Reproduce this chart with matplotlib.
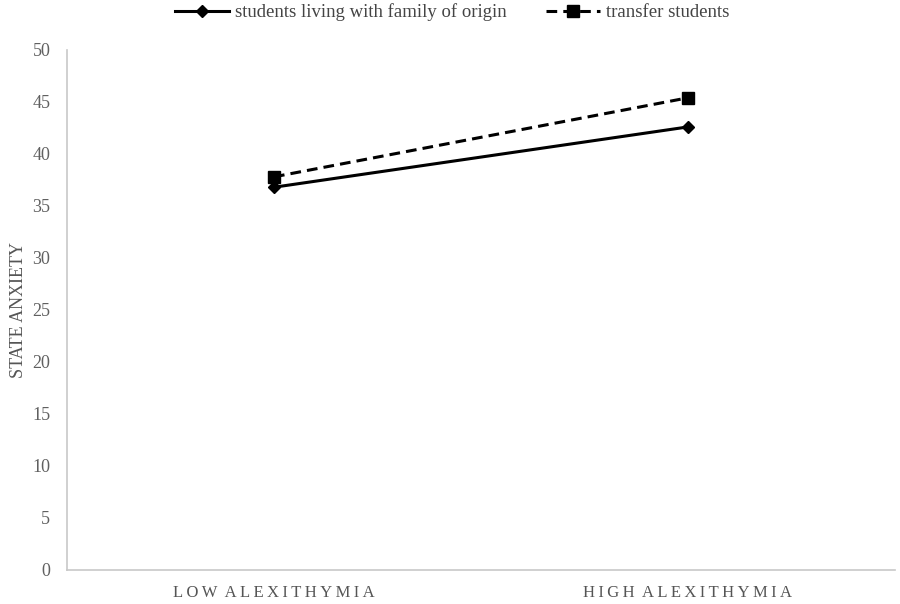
import matplotlib
matplotlib.use("Agg")
import matplotlib.pyplot as plt

categories = ["LOW ALEXITHYMIA", "HIGH ALEXITHYMIA"]
family_origin = [36.8, 42.6]
transfer = [37.8, 45.4]
yticks = [0, 5, 10, 15, 20, 25, 30, 35, 40, 45, 50]

plt.rcParams['font.family'] = ['Liberation Serif', 'DejaVu Serif']


def spaced(s):
    # letter-spaced label as in the reference
    return "\u2009".join(s).replace("\u2009 \u2009", "  ")


fig = plt.figure(figsize=(9, 6.04), dpi=100)
ax = fig.add_axes([0.0744, 0.0563, 0.92, 0.861])

x = list(range(len(categories)))
ax.plot(x, family_origin, color='black', linestyle='-', linewidth=2.2, marker='D', markersize=6.5,
        label='students living with family of origin')
ax.plot(x, transfer, color='black', linestyle=(0, (3.5, 2)), linewidth=2.2, marker='s', markersize=8,
        label='transfer students')

ax.set_xlim(-0.5, 1.5)
ax.set_ylim(0, 50)
ax.set_yticks(yticks)
ax.set_xticks(x)
ax.set_xticklabels([spaced(c) for c in categories], fontsize=12, color='#555555')
ax.tick_params(axis='y', labelsize=13, labelcolor='#606060', length=0, pad=12)
ax.tick_params(axis='x', length=0, pad=11)
for s in ['top', 'right']:
    ax.spines[s].set_visible(False)
for s in ['left', 'bottom']:
    ax.spines[s].set_color('#c8c8c8')
    ax.spines[s].set_linewidth(1.2)

ax.set_ylabel("STATE ANXIETY", fontsize=13, color='#555555', labelpad=4)

leg = fig.legend(loc='upper center', bbox_to_anchor=(0.502, 1.022), ncol=2, frameon=False,
                 fontsize=13.5, handlelength=2.9, columnspacing=2.1, handletextpad=0.3)
for t in leg.get_texts():
    t.set_color('#444444')

fig.savefig("out.png", dpi=100)
